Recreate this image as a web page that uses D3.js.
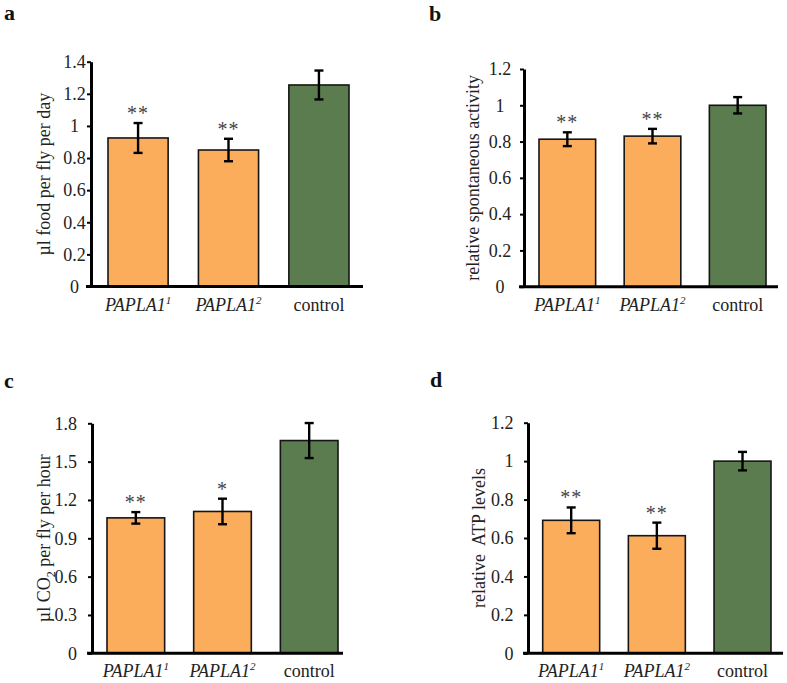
<!DOCTYPE html>
<html>
<head>
<meta charset="utf-8">
<script src="https://cdn.jsdelivr.net/npm/d3@7"></script>
<style>
  body { margin: 0; background: #fff; }
  svg text { font-family: "Liberation Serif", "DejaVu Serif", serif; }
</style>
</head>
<body>
<svg id="chart" width="787" height="683"></svg>
<script>
// genotypes on the x axis (allele shown as superscript)
const genotypes = ['PAPLA1', 'PAPLA1', 'control'];
const alleles = ['1', '2', ''];

// a: food intake
const foodMeans = [0.925, 0.85, 1.255];
const foodErrors = [0.093, 0.07, 0.09];
const foodStars = ['**', '**', ''];
const foodTicks = [0, 0.2, 0.4, 0.6, 0.8, 1, 1.2, 1.4];

// b: spontaneous activity
const activityMeans = [0.813, 0.83, 1.0];
const activityErrors = [0.038, 0.04, 0.045];
const activityStars = ['**', '**', ''];
const activityTicks = [0, 0.2, 0.4, 0.6, 0.8, 1, 1.2];

// c: CO2 production
const co2Means = [1.06, 1.11, 1.665];
const co2Errors = [0.045, 0.1, 0.137];
const co2Stars = ['**', '*', ''];
const co2Ticks = [0, 0.3, 0.6, 0.9, 1.2, 1.5, 1.8];

// d: ATP levels
const atpMeans = [0.692, 0.612, 1.0];
const atpErrors = [0.067, 0.068, 0.048];
const atpStars = ['**', '**', ''];
const atpTicks = [0, 0.2, 0.4, 0.6, 0.8, 1, 1.2];

const barColors = ['#fcad5c', '#fcad5c', '#5b7c4f'];
const serif = '"Liberation Serif", "DejaVu Serif", serif';

const svg = d3.select('#chart');

// draws one bar panel with error bars and significance stars
function drawPanel(p) {
  const g = svg.append('g').attr('font-family', serif);
  const ymax = p.ticks[p.ticks.length - 1];

  const x = d3.scaleBand()
      .domain(d3.range(p.means.length))
      .range([p.bandStart, p.bandEnd])
      .paddingInner(0.335)
      .paddingOuter(0);

  const y = d3.scaleLinear()
      .domain([0, ymax])
      .range([p.bottom, p.top]);

  const data = p.means.map((m, i) => ({ i: i, mean: m, err: p.errors[i], star: p.stars[i] }));

  // bars
  g.selectAll('rect.bar')
      .data(data)
    .enter().append('rect')
      .attr('class', 'bar')
      .attr('x', d => x(d.i))
      .attr('width', x.bandwidth())
      .attr('y', d => y(d.mean))
      .attr('height', d => y(0) - y(d.mean))
      .style('fill', d => barColors[d.i])
      .style('stroke', '#151515')
      .style('stroke-width', 1.6);

  // error bars
  const cx = d => x(d.i) + x.bandwidth() / 2;
  const eb = g.selectAll('g.err')
      .data(data)
    .enter().append('g')
      .attr('class', 'err')
      .style('stroke', '#000')
      .style('stroke-width', 2.4);
  eb.append('line')
      .attr('x1', cx).attr('x2', cx)
      .attr('y1', d => y(d.mean + d.err))
      .attr('y2', d => y(d.mean - d.err));
  eb.append('line')
      .attr('x1', d => cx(d) - 4.5).attr('x2', d => cx(d) + 4.5)
      .attr('y1', d => y(d.mean + d.err)).attr('y2', d => y(d.mean + d.err));
  eb.append('line')
      .attr('x1', d => cx(d) - 4.5).attr('x2', d => cx(d) + 4.5)
      .attr('y1', d => y(d.mean - d.err)).attr('y2', d => y(d.mean - d.err));

  // stars
  g.selectAll('text.star')
      .data(data.filter(d => d.star))
    .enter().append('text')
      .attr('class', 'star')
      .attr('x', cx)
      .attr('y', d => y(d.mean + d.err) - 3)
      .attr('text-anchor', 'middle')
      .style('font-size', '20px')
      .style('letter-spacing', '1px')
      .style('fill', '#444')
      .text(d => d.star);

  // y axis
  const yAxis = g.append('g')
      .attr('transform', `translate(${p.left},0)`)
      .call(d3.axisLeft(y)
        .tickValues(p.ticks)
        .tickSize(4)
        .tickSizeOuter(0)
        .tickFormat(d3.format('')));
  yAxis.attr('font-family', serif).attr('font-size', 18);
  yAxis.select('.domain').style('stroke', '#000').style('stroke-width', 3);
  yAxis.selectAll('.tick line').style('stroke', '#000').style('stroke-width', 2);
  yAxis.selectAll('.tick text')
      .attr('x', p.tickX)
      .attr('text-anchor', p.tickAnchor)
      .style('fill', '#222');

  // x baseline
  g.append('line')
      .attr('x1', p.left - 5).attr('x2', p.axisEnd)
      .attr('y1', y(0)).attr('y2', y(0))
      .style('stroke', '#000')
      .style('stroke-width', 3);

  // category labels
  const xl = g.selectAll('text.xlab')
      .data(data)
    .enter().append('text')
      .attr('class', 'xlab')
      .attr('x', cx)
      .attr('y', y(0) + 24)
      .attr('text-anchor', 'middle')
      .style('font-size', '18px')
      .style('fill', '#222')
      .style('font-style', d => alleles[d.i] ? 'italic' : 'normal');
  xl.append('tspan').text(d => genotypes[d.i]);
  xl.append('tspan')
      .attr('dy', -7)
      .style('font-size', '11px')
      .text(d => alleles[d.i]);

  // y axis title
  const yt = g.append('text')
      .attr('transform', `translate(${p.left - p.titleGap},${(y(0) + y(ymax)) / 2}) rotate(-90)`)
      .attr('text-anchor', 'middle')
      .style('font-size', '18px')
      .style('fill', '#222')
      .style('white-space', 'pre');
  p.title.forEach(part => {
    const t = yt.append('tspan').text(part.text);
    if (part.sub) t.attr('dy', 5).style('font-size', '12px');
    if (part.after) t.attr('dy', -5);
  });

  // panel letter
  g.append('text')
      .attr('x', p.letterX)
      .attr('y', p.letterY)
      .style('font-size', '22px')
      .style('font-weight', 'bold')
      .style('fill', '#111')
      .text(p.letter);
}

drawPanel({
  letter: 'a', letterX: 4, letterY: 20,
  means: foodMeans, errors: foodErrors, stars: foodStars, ticks: foodTicks,
  title: [{ text: 'µl food per fly per day' }], titleGap: 41.5,
  tickX: -16.5, tickAnchor: 'middle',
  left: 91, top: 61.7, bottom: 286.5, bandStart: 108, bandEnd: 349, axisEnd: 363
});

drawPanel({
  letter: 'b', letterX: 429, letterY: 21,
  means: activityMeans, errors: activityErrors, stars: activityStars, ticks: activityTicks,
  title: [{ text: 'relative spontaneous activity' }], titleGap: 45,
  tickX: -24, tickAnchor: 'middle',
  left: 524, top: 69, bottom: 286.7, bandStart: 539, bandEnd: 766, axisEnd: 778
});

drawPanel({
  letter: 'c', letterX: 4, letterY: 388,
  means: co2Means, errors: co2Errors, stars: co2Stars, ticks: co2Ticks,
  title: [{ text: 'µl CO' }, { text: '2', sub: true }, { text: ' per fly per hour', after: true }], titleGap: 42,
  tickX: -15, tickAnchor: 'end',
  left: 92, top: 423.3, bottom: 653.3, bandStart: 107, bandEnd: 338, axisEnd: 343
});

drawPanel({
  letter: 'd', letterX: 430, letterY: 387,
  means: atpMeans, errors: atpErrors, stars: atpStars, ticks: atpTicks,
  title: [{ text: 'relative  ATP levels' }], titleGap: 43,
  tickX: -14.5, tickAnchor: 'end',
  left: 528, top: 422.7, bottom: 653.3, bandStart: 542.7, bandEnd: 771, axisEnd: 783
});
</script>
</body>
</html>
